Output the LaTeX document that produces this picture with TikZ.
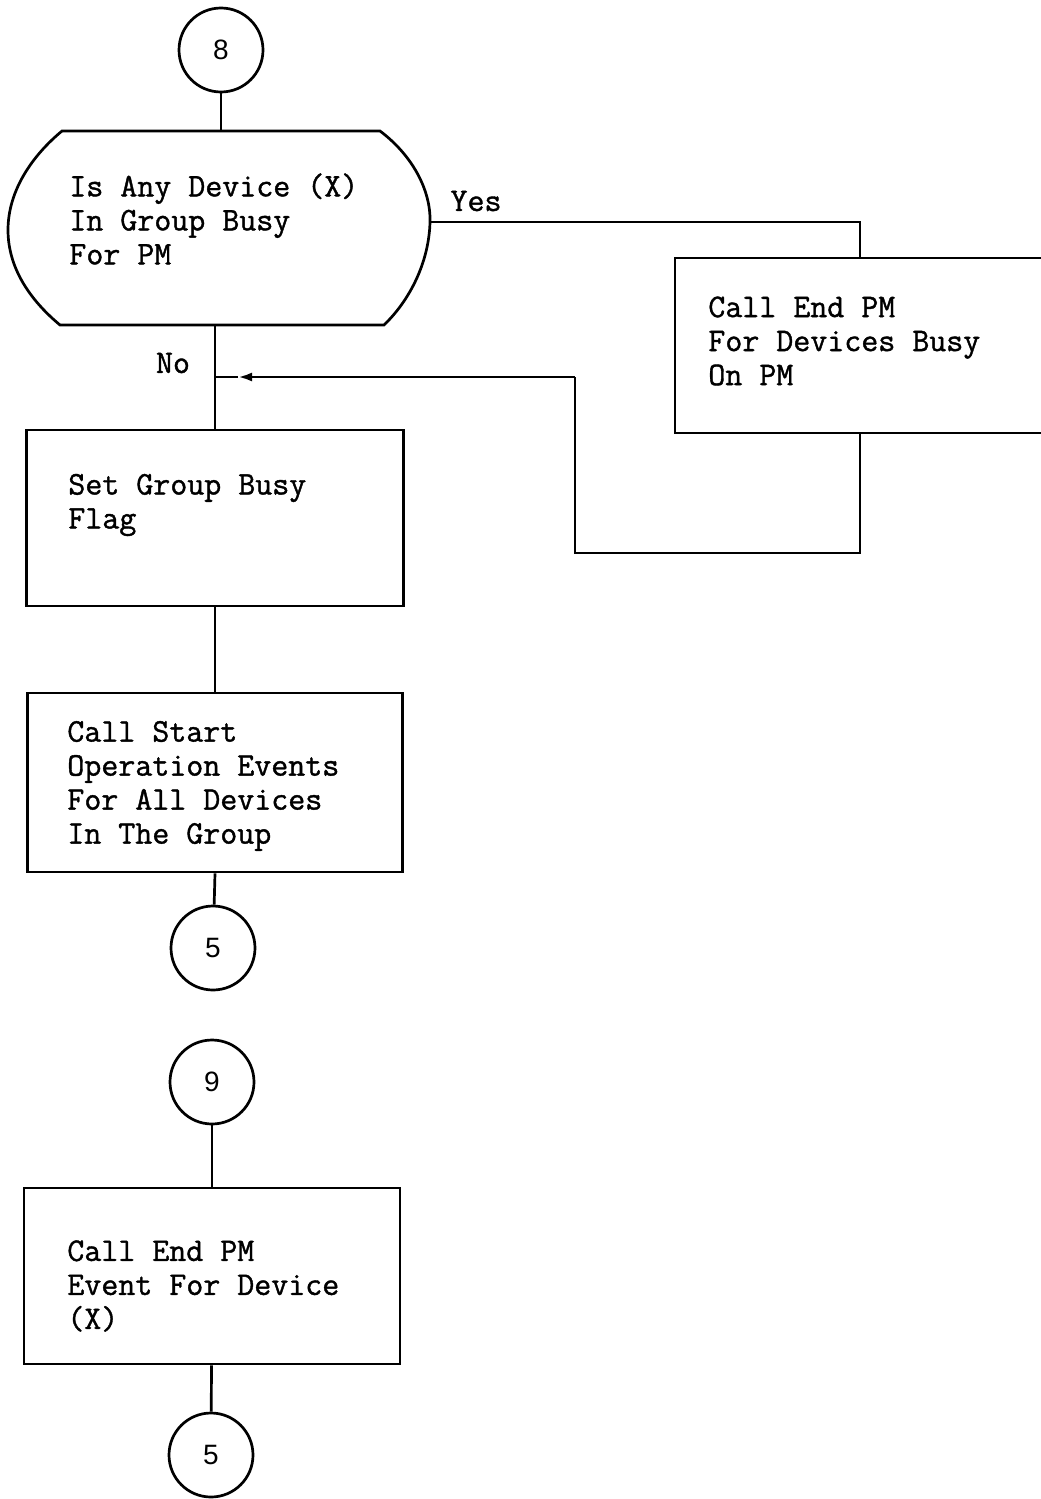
\documentclass[tikz,border=0pt]{standalone}
\usepackage{fontspec}
\setmonofont{Latin Modern Mono}[FakeBold=1.2]
\newfontfamily\numfont{Liberation Sans}
\usetikzlibrary{arrows.meta}

\begin{document}
\begin{tikzpicture}[
  x=1pt,y=-1pt,
  line width=2.7pt,
  font=\fontsize{33}{34}\selectfont\ttfamily,
  conn/.style={circle,draw,minimum size=84pt,inner sep=0pt,
               font=\fontsize{28}{30}\selectfont\numfont},
  procbox/.style={draw,rectangle,inner sep=0pt},
  boxtext/.style={align=left,anchor=west,inner sep=0pt},
  flow/.style={-{Latex[length=14pt,width=9pt]}},
  yesno/.style={inner sep=0pt}
]
\useasboundingbox (0,0) rectangle (1041,1499);

% Entry from connector 8.
\node[conn] (c8) at (221,50) {8};

% Decision outline.
\coordinate (dtop) at (221,131);
\coordinate (dright) at (430,222);
\coordinate (dbot) at (215,325);
\draw (62,131) -- (380,131)
  .. controls (412,155) and (431,190) .. (dright)
  .. controls (429,262) and (410,300) .. (384,325)
  -- (60,325)
  .. controls (30,300) and (8,268) .. (8,230)
  .. controls (8,190) and (33,155) .. (62,131) -- cycle;
\node[boxtext] (dtext) at (68,219) {Is Any Device (X)\\In Group Busy\\For PM};

% Yes branch.
\node[procbox,minimum width=370pt,minimum height=175pt] (endpm) at (860,345.5) {};
\node[boxtext] (endpmtext) at (707,341) {Call End PM\\For Devices Busy\\On PM};
\node[yesno] (yes) at (476,201) {Yes};
\node[yesno] (no) at (173,363) {No};

% Main column.
\node[procbox,minimum width=377pt,minimum height=176pt] (setflag) at (215,518) {};
\node[boxtext] (setflagtext) at (67,505) {Set Group Busy\\Flag};
\node[procbox,minimum width=375pt,minimum height=179pt] (startops) at (215,782.5) {};
\node[boxtext] (startopstext) at (66,786) {Call Start\\Operation Events\\For All Devices\\In The Group};
\node[conn] (c5a) at (213,948) {5};

% Entry from connector 9.
\node[conn] (c9) at (212,1082) {9};
\node[procbox,minimum width=376pt,minimum height=176pt] (endev) at (212,1276) {};
\node[boxtext] (endevtext) at (66,1286) {Call End PM\\Event For Device\\(X)};
\node[conn] (c5b) at (211,1455) {5};

% Return loop.
\coordinate (loopc) at (575,553);
\coordinate (loopup) at (575,377);
\coordinate (tip) at (238,377);
\coordinate (join) at (215,377);

\draw (c8) -- (dtop);
\draw (dright) -| (endpm.north);
\draw (endpm.south) |- (loopc) -- (loopup);
\draw[flow] (loopup) -- (tip);
\draw (tip) -- (join);
\draw (dbot) -- (setflag.north);
\draw (setflag.south) -- (startops.north);
\draw (startops.south) -- (c5a);
\draw (c9) -- (endev);
\draw (endev) -- (c5b);

\end{tikzpicture}
\end{document}
